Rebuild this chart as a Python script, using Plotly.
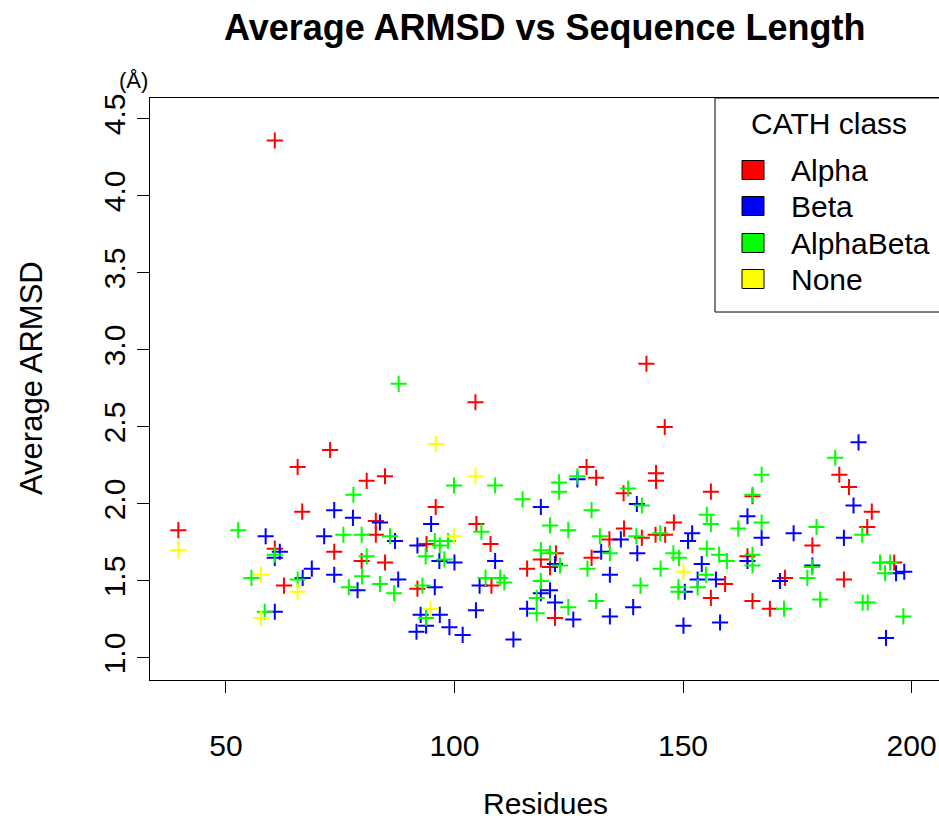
import plotly.graph_objects as go

# ---- data ----
classes = ["Alpha", "Beta", "AlphaBeta", "None"]
colors = ["#FF0000", "#0000FF", "#00FF00", "#FFFF00"]

alpha_x = [39.6, 60.7, 60.7, 62.7, 65.7, 66.7, 72.8, 73.7, 80.8, 84.8, 82.8, 82.8, 79.7, 84.8,
           95.9, 93.9, 91.9, 104.6, 104.8, 107.9, 108.1, 115.9, 118.9, 120.9, 122.2, 122.0,
           128.9, 131.0, 130.0, 133.9, 137.0, 137.1, 142.0, 144.1, 144.1, 146.0, 148.0, 141.0,
           144.0, 146.1, 156.1, 165.2, 164.1, 159.2, 156.1, 165.2, 169.0, 172.3, 178.3, 184.2,
           186.3, 191.3, 190.3, 185.2, 196.2]
alpha_y = [1.83, 4.36, 1.71, 1.47, 2.24, 1.95, 2.35, 1.69, 2.15, 2.18, 1.89, 1.80, 1.63, 1.62,
           1.98, 1.74, 1.45, 2.66, 1.87, 1.74, 1.47, 1.58, 1.64, 1.59, 1.68, 1.26,
           2.24, 2.17, 1.65, 1.77, 2.07, 1.84, 2.91, 2.20, 2.15, 2.50, 1.88, 1.78,
           1.80, 1.80, 2.08, 2.05, 1.66, 1.48, 1.39, 1.37, 1.32, 1.52, 1.73, 2.19,
           2.11, 1.95, 1.85, 1.51, 1.62]

beta_x = [58.7, 61.8, 60.7, 60.7, 66.8, 68.8, 71.5, 73.7, 77.8, 73.7, 78.8, 83.7, 87.0, 87.7,
          91.9, 94.9, 95.7, 96.7, 100.0, 92.6, 96.8, 93.8, 91.7, 98.9, 101.8, 104.7, 105.5,
          108.9, 112.9, 118.9, 126.9, 122.0, 118.9, 120.9, 122.0, 115.9, 126.0, 132.1, 134.0,
          136.4, 134.0, 139.1, 139.9, 140.0, 151.1, 152.0, 154.1, 153.2, 157.2, 150.4, 150.1,
          158.1, 164.1, 164.1, 167.2, 171.2, 174.2, 178.3, 185.2, 187.3, 188.4, 196.6, 198.4,
          194.4]
beta_y = [1.79, 1.69, 1.65, 1.30, 1.52, 1.58, 1.79, 1.96, 1.91, 1.54, 1.44, 1.88, 1.76, 1.51,
          1.73, 1.87, 1.46, 1.63, 1.62, 1.28, 1.28, 1.21, 1.17, 1.20, 1.15, 1.31, 1.47,
          1.63, 1.12, 1.98, 2.16, 1.61, 1.42, 1.44, 1.36, 1.32, 1.25, 1.69, 1.54,
          1.77, 1.27, 1.33, 2.00, 1.68, 1.76, 1.81, 1.61, 1.51, 1.51, 1.43, 1.21,
          1.23, 1.92, 1.63, 1.78, 1.50, 1.81, 1.60, 1.78, 1.99, 2.40, 1.55, 1.56,
          1.13]

alphabeta_x = [52.7, 60.7, 55.6, 65.7, 58.5, 75.7, 79.7, 77.9, 80.8, 79.8, 76.9, 83.7, 85.9, 86.8,
               87.8, 93.0, 93.7, 93.8, 95.7, 96.8, 97.8, 98.6, 99.9, 105.9, 106.8, 108.9, 110.0,
               110.9, 114.9, 118.0, 118.0, 118.9, 118.9, 120.9, 120.9, 122.9, 122.9, 123.1, 124.9,
               124.9, 126.9, 129.1, 130.0, 131.0, 131.8, 134.0, 138.0, 139.8, 141.0, 140.7, 145.0,
               145.1, 147.9, 149.1, 149.0, 149.0, 153.2, 155.0, 155.2, 155.2, 156.1, 157.9, 159.6,
               162.1, 165.2, 165.2, 165.2, 167.2, 167.2, 172.1, 177.2, 178.2, 179.2, 180.0, 183.3,
               189.2, 189.3, 190.4, 193.1, 195.3, 194.2, 198.2]
alphabeta_y = [1.83, 1.67, 1.52, 1.51, 1.30, 1.80, 1.80, 2.06, 1.66, 1.53, 1.46, 1.48, 1.79, 1.42,
               2.78, 1.47, 1.66, 1.26, 1.76, 1.73, 1.64, 1.76, 2.12, 1.82, 1.52, 2.12, 1.52,
               1.49, 2.03, 1.39, 1.29, 1.70, 1.50, 1.68, 1.86, 2.14, 2.08, 1.60, 1.83,
               1.33, 2.18, 1.58, 1.96, 1.37, 1.79, 1.68, 2.10, 1.79, 1.99, 1.47, 1.81,
               1.58, 1.68, 1.65, 1.46, 1.43, 1.46, 1.54, 1.93, 1.71, 1.87, 1.67, 1.63,
               1.84, 2.06, 1.67, 1.60, 2.19, 1.88, 1.32, 1.52, 1.59, 1.85, 1.38, 2.30,
               1.80, 1.36, 1.36, 1.62, 1.62, 1.55, 1.27]

none_x = [39.6, 57.7, 65.7, 57.7, 94.8, 95.9, 104.6, 99.9, 150.1]
none_y = [1.70, 1.54, 1.43, 1.26, 1.32, 2.39, 2.18, 1.79, 1.56]

x_ticks = [50, 100, 150, 200]
y_ticks = [1.0, 1.5, 2.0, 2.5, 3.0, 3.5, 4.0, 4.5]
y_ticktext = ["1.0", "1.5", "2.0", "2.5", "3.0", "3.5", "4.0", "4.5"]

series_x = [alpha_x, beta_x, alphabeta_x, none_x]
series_y = [alpha_y, beta_y, alphabeta_y, none_y]

# ---- layout geometry (pixels) ----
W, H = 939, 819
L, R, T, B = 150, 939, 98, 680
PW, PH = R - L, B - T


def px(xp):
    return (xp - L) / PW


def py(yp):
    return (B - yp) / PH


FONT = "Liberation Sans, Arial, Helvetica, sans-serif"

fig = go.Figure()
for name, col, xs, ys in zip(classes, colors, series_x, series_y):
    fig.add_trace(go.Scatter(
        x=xs, y=ys, mode="markers", name=name, showlegend=False,
        marker=dict(symbol="cross-thin-open", size=11.5, color=col,
                    line=dict(color=col, width=2)),
        hoverinfo="x+y+name",
    ))

shapes = []
annotations = []

# Legend box (manual, R style)
shapes.append(dict(type="rect", xref="paper", yref="paper",
                   x0=px(715), x1=px(980), y0=py(312), y1=py(98),
                   line=dict(color="black", width=1), fillcolor="white", layer="above"))
annotations.append(dict(text="CATH class", xref="paper", yref="paper",
                        x=px(829), y=py(124), xanchor="center", yanchor="middle",
                        showarrow=False, font=dict(family=FONT, size=30, color="black")))
leg_y = [170, 206, 243, 279]
for name, col, yc in zip(classes, colors, leg_y):
    shapes.append(dict(type="rect", xref="paper", yref="paper",
                       x0=px(742), x1=px(764), y0=py(yc + 9.5), y1=py(yc - 9.5),
                       line=dict(color="black", width=1), fillcolor=col, layer="above"))
    annotations.append(dict(text=name, xref="paper", yref="paper",
                            x=px(789), y=py(yc), xanchor="left", yanchor="middle",
                            showarrow=False, font=dict(family=FONT, size=30, color="black")))

# Titles
annotations.append(dict(text="<b>Average ARMSD vs Sequence Length</b>", xref="paper", yref="paper",
                        x=px(545), y=py(28), xanchor="center", yanchor="middle",
                        showarrow=False, font=dict(family=FONT, size=36, color="black")))
annotations.append(dict(text="Residues", xref="paper", yref="paper",
                        x=px(545), y=py(803), xanchor="center", yanchor="middle",
                        showarrow=False, font=dict(family=FONT, size=30, color="black")))
annotations.append(dict(text="Average ARMSD", xref="paper", yref="paper",
                        x=px(31), y=py(378), xanchor="center", yanchor="middle", textangle=-90,
                        showarrow=False, font=dict(family=FONT, size=31, color="black")))
annotations.append(dict(text="(Å)", xref="paper", yref="paper",
                        x=px(133), y=py(80), xanchor="center", yanchor="middle",
                        showarrow=False, font=dict(family=FONT, size=22, color="black")))

fig.update_layout(
    width=W, height=H,
    margin=dict(l=L, r=W - R, t=T, b=H - B, pad=0),
    paper_bgcolor="white", plot_bgcolor="white",
    showlegend=False,
    shapes=shapes, annotations=annotations,
    font=dict(family=FONT, size=30, color="black"),
    xaxis=dict(range=[33.4, 206.0], tickmode="array", tickvals=x_ticks,
               ticks="outside", ticklen=12, tickwidth=1, tickcolor="black",
               showline=True, mirror=True, linecolor="black", linewidth=1,
               showgrid=False, zeroline=False,
               tickfont=dict(family=FONT, size=30, color="black"),
               ticklabelstandoff=27),
    yaxis=dict(range=[0.857, 4.636], tickmode="array", tickvals=y_ticks, ticktext=y_ticktext,
               ticks="outside", ticklen=12, tickwidth=1, tickcolor="black",
               showline=True, mirror=False, linecolor="black", linewidth=1,
               showgrid=False, zeroline=False, tickangle=-90,
               tickfont=dict(family=FONT, size=30, color="black"),
               ticklabelstandoff=0),
)

fig.write_html("out.html")
